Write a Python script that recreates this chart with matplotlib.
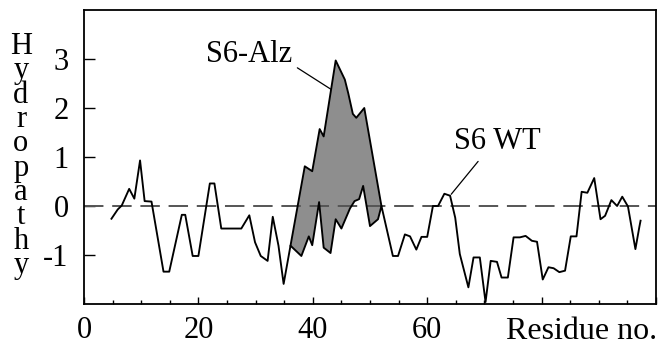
import matplotlib
matplotlib.use("Agg")
import matplotlib.pyplot as plt
import numpy as np

plt.rcParams['font.family'] = ['Liberation Serif', 'DejaVu Serif']

# S6 WT hydropathy profile (residue, value)
wt_x = [4.8, 5.9, 6.6, 7.9, 8.8, 9.8, 10.6, 11.8, 13.9, 14.9, 17.1, 17.7, 19.0, 20.0,
        22.0, 22.8, 24.0, 27.5, 28.9, 29.9, 30.9, 32.1, 33.0, 34.0, 34.9, 36.1, 38.0,
        39.3, 39.9, 41.1, 41.9, 43.1, 44.0, 45.0, 46.5, 47.3, 48.1, 48.8, 50.0, 51.4,
        52.0, 54.0, 54.9, 56.1, 57.0, 58.1, 59.0, 60.0, 61.0, 61.9, 63.0, 64.0, 64.9,
        65.7, 67.2, 68.1, 69.2, 70.2, 71.1, 72.2, 73.0, 74.1, 75.1, 76.2, 77.2, 78.3,
        79.2, 80.2, 81.2, 82.1, 83.1, 84.1, 85.1, 86.1, 87.0, 88.0, 89.2, 90.3, 91.1,
        92.2, 93.2, 94.1, 95.1, 96.4, 97.1, 97.3]
wt_y = [-0.26, -0.07, 0.01, 0.35, 0.15, 0.93, 0.10, 0.09, -1.34, -1.34, -0.18, -0.18, -1.02, -1.02,
        0.46, 0.46, -0.46, -0.46, -0.19, -0.74, -1.02, -1.12, -0.22, -0.81, -1.59, -0.81, -1.02,
        -0.62, -0.80, 0.08, -0.85, -0.96, -0.27, -0.46, -0.05, 0.10, 0.14, 0.41, -0.41, -0.27,
        0.0, -1.02, -1.02, -0.58, -0.62, -0.89, -0.63, -0.63, 0.0, 0.0, 0.25, 0.21, -0.24,
        -0.98, -1.66, -1.05, -1.05, -1.96, -1.12, -1.14, -1.46, -1.46, -0.64, -0.64, -0.61, -0.71,
        -0.73, -1.50, -1.25, -1.27, -1.35, -1.32, -0.62, -0.62, 0.29, 0.27, 0.57, -0.27, -0.20,
        0.12, 0.0, 0.19, -0.01, -0.88, -0.42, -0.30]

# S6-Alz profile in the mutated region
alz_x = [36.1, 38.6, 39.9, 41.2, 41.9, 44.0, 45.6, 46.2, 47.0, 47.6, 49.0, 52.0]
alz_y = [-0.81, 0.81, 0.71, 1.57, 1.42, 2.97, 2.58, 2.30, 1.88, 1.80, 2.00, 0.0]

x_ticks = [0, 20, 40, 60, 80, 100]
x_tick_labels = ["0", "20", "40", "60", "", ""]
y_ticks = [-1, 0, 1, 2, 3]
y_tick_labels = ["-1", "0", "1", "2", "3"]

FS = 22

fig = plt.figure(figsize=(6.58, 3.46), dpi=100)
ax = fig.add_axes([84/658, 1-304/346, (656-84)/658, (304-10)/346])

# shaded region between curves
wx = np.array(wt_x); wy = np.array(wt_y)
m = (wx >= alz_x[0]) & (wx <= alz_x[-1])
poly_x = np.concatenate([alz_x, wx[m][::-1]])
poly_y = np.concatenate([alz_y, wy[m][::-1]])
ax.fill(poly_x, poly_y, facecolor='#8e8e8e', edgecolor='none', zorder=1)
ax.plot(alz_x, alz_y, color='black', lw=1.35, zorder=3)
ax.plot(wt_x, wt_y, color='black', lw=1.35, zorder=3)

ax.axhline(0, color='#555555', lw=1.4, dashes=(10, 4.5), zorder=2)

ax.set_xlim(0, 100)
ax.set_ylim(-2, 4)
ax.set_xticks(x_ticks)
ax.set_xticklabels(x_tick_labels)
ax.set_xticks(np.arange(0, 101, 5), minor=True)
ax.set_yticks(y_ticks)
ax.set_yticklabels(y_tick_labels)
ax.tick_params(axis='x', which='major', direction='in', length=5, width=1, labelsize=FS, pad=9)
ax.tick_params(axis='x', which='minor', direction='in', length=3, width=1)
ax.tick_params(axis='y', which='major', direction='in', length=8, width=1, labelsize=FS, pad=11)
for s in ax.spines.values():
    s.set_linewidth(1.3)

# labels with leader lines
ax.text(28.8, 3.1, "S6-Alz", fontsize=FS, ha='center', va='center')
ax.annotate("", xy=(43.2, 2.38), xytext=(37.3, 2.82),
            arrowprops=dict(arrowstyle='-', color='black', lw=0.9, shrinkA=0, shrinkB=0))
ax.text(72.3, 1.32, "S6 WT", fontsize=FS, ha='center', va='center')
ax.annotate("", xy=(64.2, 0.24), xytext=(68.9, 0.91),
            arrowprops=dict(arrowstyle='-', color='black', lw=0.9, shrinkA=0, shrinkB=0))

fig.text(657/658, 1-317/346, "Residue no.", fontsize=FS + 1, ha='right', va='top')
fig.text(21/658, 1-156/346, "\n".join("Hydropathy"), fontsize=FS, ha='center', va='center',
         multialignment='center', linespacing=0.79)

fig.savefig("out.png", dpi=100)
